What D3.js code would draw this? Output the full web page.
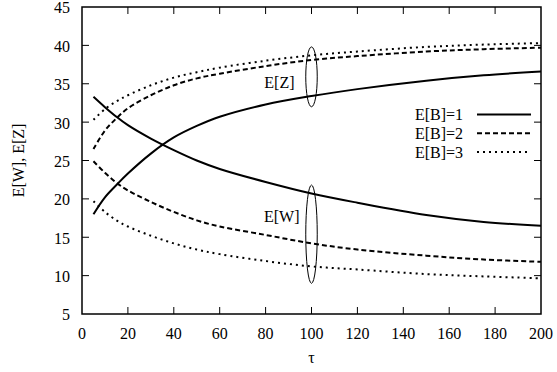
<!DOCTYPE html>
<meta charset="utf-8">
<style>
body { margin: 0; background: #fff; }
.frame { fill: none; stroke: #000; stroke-width: 1.5; }
.tick { stroke: #000; stroke-width: 1; }
.curve { fill: none; stroke: #000; stroke-width: 2; }
.ell { fill: none; stroke: #000; stroke-width: 1; }
</style>
<body>
<script src="https://cdn.jsdelivr.net/npm/d3@7"></script>
<script>

// tau values (x)
var tau = [5, 10, 15, 20, 30, 40, 50, 60, 80, 100, 120, 150, 175, 200];

// E[Z] series
var z1 = [18.0, 20.2, 21.8, 23.3, 25.9, 28.0, 29.5, 30.7, 32.3, 33.4, 34.3, 35.4, 36.1, 36.6];
var z2 = [26.5, 28.9, 30.5, 31.8, 33.5, 34.8, 35.7, 36.3, 37.3, 38.1, 38.6, 39.2, 39.5, 39.7];
var z3 = [30.3, 31.7, 32.7, 33.5, 34.8, 35.8, 36.5, 37.1, 38.0, 38.7, 39.2, 39.8, 40.1, 40.3];

// E[W] series
var w1 = [33.3, 31.95, 30.7, 29.6, 27.85, 26.35, 25.0, 23.9, 22.2, 20.7, 19.5, 17.9, 17.0, 16.5];
var w2 = [24.9, 23.4, 22.1, 21.1, 19.6, 18.3, 17.2, 16.4, 15.3, 14.2, 13.4, 12.6, 12.1, 11.8];
var w3 = [19.7, 18.3, 17.2, 16.4, 15.2, 14.2, 13.4, 12.8, 11.9, 11.2, 10.8, 10.2, 9.9, 9.65];

var legendLabels = ["E[B]=1", "E[B]=2", "E[B]=3"];
var dashes = [null, "5,3", "2,4"];

var xTicks = d3.range(0, 201, 20);
var yTicks = d3.range(5, 46, 5);

var W = 557, H = 372;
var margin = {top: 7, right: 16, bottom: 58, left: 82},
    width = W - margin.left - margin.right,
    height = H - margin.top - margin.bottom;

var x = d3.scaleLinear().domain([0, 200]).range([0, width]);
var y = d3.scaleLinear().domain([5, 45]).range([height, 0]);

var svg = d3.select("body").append("svg")
    .attr("width", W)
    .attr("height", H)
    .style("font-family", "'Liberation Serif', 'Times New Roman', Times, serif")
    .style("font-size", "16px")
  .append("g")
    .attr("transform", "translate(" + margin.left + "," + margin.top + ")");

var tl = 7; // tick length, inward

// ticks on all four sides
xTicks.slice(1, -1).forEach(function(t) {
  svg.append("line").attr("class", "tick")
    .attr("x1", x(t)).attr("x2", x(t)).attr("y1", height).attr("y2", height - tl);
  svg.append("line").attr("class", "tick")
    .attr("x1", x(t)).attr("x2", x(t)).attr("y1", 0).attr("y2", tl);
});
yTicks.slice(1, -1).forEach(function(t) {
  svg.append("line").attr("class", "tick")
    .attr("x1", 0).attr("x2", tl).attr("y1", y(t)).attr("y2", y(t));
  svg.append("line").attr("class", "tick")
    .attr("x1", width).attr("x2", width - tl).attr("y1", y(t)).attr("y2", y(t));
});

svg.selectAll(".xl").data(xTicks).enter().append("text")
    .attr("x", function(d) { return x(d); })
    .attr("y", height + 25)
    .attr("text-anchor", "middle")
    .text(function(d) { return d; });

svg.selectAll(".yl").data(yTicks).enter().append("text")
    .attr("x", -12)
    .attr("y", function(d) { return y(d); })
    .attr("dy", "0.4em")
    .attr("text-anchor", "end")
    .text(function(d) { return d; });

svg.append("rect").attr("class", "frame")
    .attr("x", 0).attr("y", 0).attr("width", width).attr("height", height);

// axis titles
svg.append("text")
    .attr("transform", "translate(" + (-58) + "," + (height / 2) + ") rotate(-90)")
    .attr("text-anchor", "middle")
    .text("E[W], E[Z]");

svg.append("text")
    .attr("x", x(100))
    .attr("y", height + 49)
    .attr("text-anchor", "middle")
    .text("τ");

// curves
var line = d3.line()
    .x(function(d) { return x(d[0]); })
    .y(function(d) { return y(d[1]); })
    .curve(d3.curveCatmullRom);

var series = [[z1, w1], [z2, w2], [z3, w3]];
series.forEach(function(pair, i) {
  pair.forEach(function(vals) {
    svg.append("path").attr("class", "curve")
      .attr("d", line(tau.map(function(t, j) { return [t, vals[j]]; })))
      .attr("stroke-dasharray", dashes[i]);
  });
});

// ellipses marking the groups
var rx = x(102.5) - x(100);
svg.append("ellipse").attr("class", "ell")
    .attr("cx", x(100)).attr("cy", y(35.9))
    .attr("rx", rx).attr("ry", y(32) - y(35.9));
svg.append("ellipse").attr("class", "ell")
    .attr("cx", x(100)).attr("cy", y(15.4))
    .attr("rx", rx).attr("ry", y(9) - y(15.4));

svg.append("text")
    .attr("x", x(100) - 17).attr("y", y(35.9) + 11)
    .attr("text-anchor", "end")
    .text("E[Z]");
svg.append("text")
    .attr("x", x(100) - 12).attr("y", y(15.4) - 12)
    .attr("text-anchor", "end")
    .text("E[W]");

// legend
var legend = svg.selectAll(".leg").data(legendLabels).enter().append("g")
    .attr("transform", function(d, i) { return "translate(0," + (107.5 + i * 18.7) + ")"; });

legend.append("text")
    .attr("x", 381)
    .attr("dy", "0.35em")
    .attr("text-anchor", "end")
    .text(function(d) { return d; });

legend.append("line").attr("class", "curve")
    .attr("x1", 395).attr("x2", 449)
    .attr("stroke-dasharray", function(d, i) { return dashes[i]; });

</script>
</body>
